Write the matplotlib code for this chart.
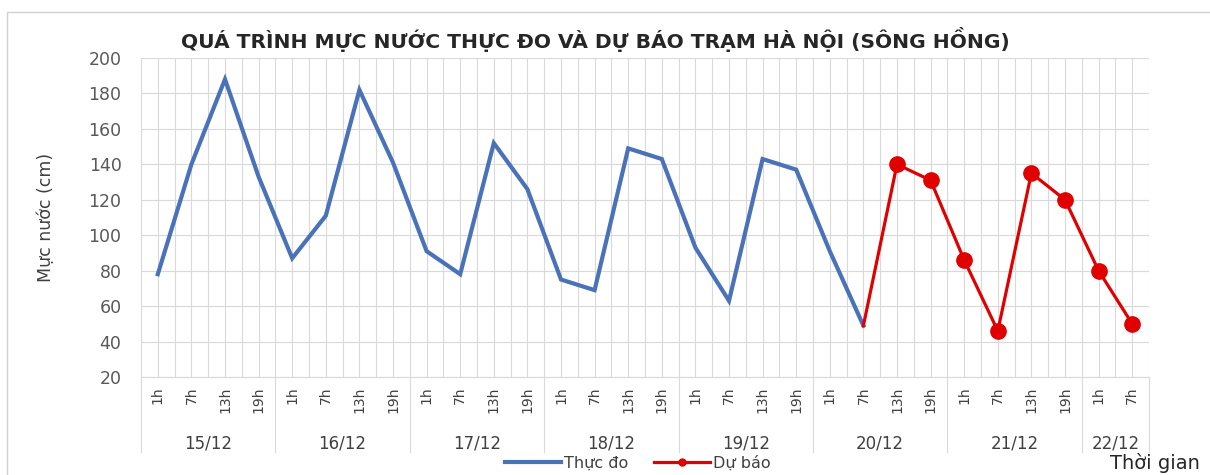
import matplotlib.pyplot as plt
import matplotlib.transforms as mtransforms
from matplotlib.lines import Line2D
from matplotlib.patches import Rectangle
import numpy as np

plt.rcParams['font.family'] = ['DejaVu Sans']

# categories
days = ['15/12', '16/12', '17/12', '18/12', '19/12', '20/12', '21/12', '22/12']
hours_per_day = [4, 4, 4, 4, 4, 4, 4, 2]
hours = ['1h', '7h', '13h', '19h']

# series values (cm)
thuc_do = [78, 140, 188, 133, 87, 111, 182, 141, 91, 78,
           152, 126, 75, 69, 149, 143, 93, 63, 143, 137,
           91, 49]
du_bao = [49, 140, 131, 86, 46, 135, 120, 80, 50]
du_bao_start = 21

hour_labels = []
for n in hours_per_day:
    hour_labels += hours[:n]
n_cat = len(hour_labels)
x = np.arange(n_cat)

blue = '#4a72b8'
red = '#e00000'
grid_c = '#d9d9d9'
text_c = '#404040'

fig = plt.figure(figsize=(12.1, 4.75), dpi=100)
fig.patches.append(Rectangle((7/1210, -0.1), 1.2, 1 - 12/475 + 0.1, transform=fig.transFigure,
                             fill=False, edgecolor='#d0d0d0', lw=1))
ax = fig.add_axes([141/1210, 1 - 377/475, 1008/1210, 319/475])

ax.plot(x[:len(thuc_do)], thuc_do, color=blue, lw=3, solid_joinstyle='miter', zorder=3)
xr = x[du_bao_start:du_bao_start + len(du_bao)]
ax.plot(xr, du_bao, color=red, lw=2.3, zorder=4)
ax.plot(xr[1:], du_bao[1:], 'o', color=red, ms=11, zorder=5)

ax.set_xlim(-0.5, n_cat - 0.5)
ax.set_ylim(20, 200)
ax.set_yticks(range(20, 201, 20))
ax.tick_params(axis='y', length=0, labelsize=12.5, labelcolor='#595959', pad=14)

# grid: category boundaries and centres
ax.set_xticks(x)
ax.set_xticklabels(hour_labels, rotation=90, fontsize=10, color=text_c)
ax.set_xticks(np.arange(-0.5, n_cat, 1.0), minor=True)
ax.tick_params(axis='x', which='both', length=0, pad=7)
ax.grid(True, which='both', axis='x', color=grid_c, lw=0.8)
ax.grid(True, which='major', axis='y', color=grid_c, lw=0.8)
ax.set_axisbelow(True)
for s in ['top', 'right', 'left']:
    ax.spines[s].set_visible(False)
ax.spines['bottom'].set_color(grid_c)

# day groups under the axis
trans = mtransforms.blended_transform_factory(ax.transData, ax.transAxes)
start = 0
bounds = [0]
for d, n in zip(days, hours_per_day):
    ax.text(start + n / 2 - 0.5, -0.207, d, transform=trans, ha='center', va='center',
            fontsize=12, color=text_c)
    start += n
    bounds.append(start)
for b in bounds:
    ax.add_line(Line2D([b - 0.5, b - 0.5], [0, -0.235], transform=trans,
                       color=grid_c, lw=0.8, clip_on=False))

ax.set_ylabel('Mực nước (cm)', fontsize=12.5, color=text_c)
ax.yaxis.set_label_coords(-0.085, 0.5)

fig.text(595/1210, 1 - 40/475, 'QUÁ TRÌNH MỰC NƯỚC THỰC ĐO VÀ DỰ BÁO TRẠM HÀ NỘI (SÔNG HỒNG)',
         ha='center', va='center', fontsize=14.6, fontweight='bold', color='#262626')

handles = [Line2D([], [], color=blue, lw=3),
           Line2D([], [], color=red, lw=2.3, marker='o', ms=5)]
fig.legend(handles, ['Thực đo', 'Dự báo'], loc='center left', bbox_to_anchor=(500/1210, 1 - 463/475),
           ncol=2, frameon=False, fontsize=11.5, handlelength=3.5, handletextpad=0.2,
           columnspacing=1.6, labelcolor=text_c, borderaxespad=0, borderpad=0.3)
fig.text(1200/1210, 1 - 463/475, 'Thời gian', ha='right', va='center', fontsize=14, color='#262626')

fig.savefig('out.png', dpi=100)
